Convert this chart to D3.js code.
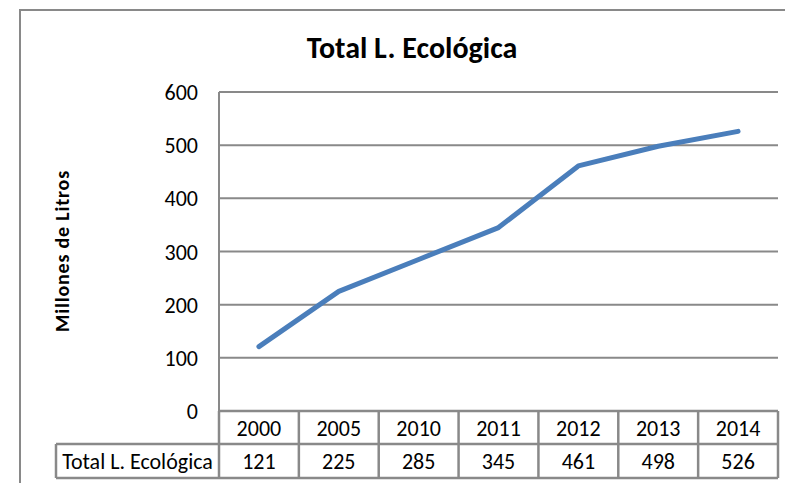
<!DOCTYPE html>
<html>
<head>
<meta charset="utf-8">
<script src="https://cdn.jsdelivr.net/npm/d3@7"></script>
<style>
  body { margin: 0; background: #fff; }
  svg { display: block; font-family: Carlito, Lato, "Liberation Sans", sans-serif; }
</style>
</head>
<body>
<svg width="785" height="483"></svg>
<script>
// --- Data ---
const years = ["2000", "2005", "2010", "2011", "2012", "2013", "2014"];
const values = [121, 225, 285, 345, 461, 498, 526];
const yTicks = [0, 100, 200, 300, 400, 500, 600];
const seriesName = "Total L. Ecológica";

const svg = d3.select("svg");
const gridColor = "#898989";
const lineColor = "#4a7ebb";
const fs = 22;

// outer chart frame (cut off on the right and bottom)
svg.append("rect")
    .attr("x", 20).attr("y", 10).attr("width", 800).attr("height", 500)
    .attr("fill", "none").attr("stroke", gridColor).attr("stroke-width", 2);

const plot = { left: 219, right: 778, top: 92, bottom: 411 };

const x = d3.scaleBand().domain(years).range([plot.left, plot.right]).padding(0);
const y = d3.scaleLinear().domain([0, 600]).range([plot.bottom, plot.top]);

// title
svg.append("text")
    .attr("x", 412).attr("y", 58)
    .attr("text-anchor", "middle")
    .attr("font-size", 30).attr("font-weight", "bold")
    .text(seriesName);

// y axis title
svg.append("text")
    .attr("transform", `translate(69,251) rotate(-90)`)
    .attr("text-anchor", "middle")
    .attr("font-size", 20).attr("font-weight", "bold")
    .attr("letter-spacing", 0.8)
    .text("Millones de Litros");

// gridlines
svg.append("g").selectAll("line")
    .data(yTicks.filter(d => d > 0))
    .join("line")
    .attr("x1", plot.left).attr("x2", plot.right)
    .attr("y1", d => y(d)).attr("y2", d => y(d))
    .attr("stroke", gridColor).attr("stroke-width", 2);

// y axis line
svg.append("line")
    .attr("x1", plot.left).attr("x2", plot.left)
    .attr("y1", y(600)).attr("y2", y(0))
    .attr("stroke", gridColor).attr("stroke-width", 2);

// y tick labels
svg.append("g").selectAll("text")
    .data(yTicks)
    .join("text")
    .attr("x", 198)
    .attr("y", d => y(d) + 8)
    .attr("text-anchor", "end")
    .attr("font-size", fs)
    .text(d => d);

// data table
const rowTop = y(0), rowMid = 444, rowBot = 478, labelLeft = 56;
const table = svg.append("g");
table.append("g").selectAll("text")
    .data(years)
    .join("text")
    .attr("x", d => x(d) + x.bandwidth() / 2)
    .attr("y", (rowTop + rowMid) / 2 + 8)
    .attr("text-anchor", "middle")
    .attr("font-size", fs)
    .text(d => d);
table.append("g").selectAll("text")
    .data(values)
    .join("text")
    .attr("x", (d, i) => x(years[i]) + x.bandwidth() / 2)
    .attr("y", (rowMid + rowBot) / 2 + 8)
    .attr("text-anchor", "middle")
    .attr("font-size", fs)
    .text(d => d);
table.append("text")
    .attr("x", (labelLeft + plot.left) / 2)
    .attr("y", (rowMid + rowBot) / 2 + 8)
    .attr("text-anchor", "middle")
    .attr("font-size", fs)
    .text(seriesName);

const tlines = [
  [plot.left, rowTop, plot.right, rowTop],
  [labelLeft, rowMid, plot.right, rowMid],
  [labelLeft, rowBot, plot.right, rowBot],
  [labelLeft, rowMid, labelLeft, rowBot],
  [plot.left, rowTop, plot.left, rowBot]
];
years.forEach(yr => tlines.push([x(yr) + x.bandwidth(), rowTop, x(yr) + x.bandwidth(), rowBot]));
table.append("g").selectAll("line")
    .data(tlines)
    .join("line")
    .attr("x1", d => d[0]).attr("y1", d => d[1])
    .attr("x2", d => d[2]).attr("y2", d => d[3])
    .attr("stroke", gridColor).attr("stroke-width", 2.5);

// series line
const line = d3.line()
    .x((d, i) => x(years[i]) + x.bandwidth() / 2)
    .y(d => y(d));
svg.append("path")
    .datum(values)
    .attr("d", line)
    .attr("fill", "none")
    .attr("stroke", lineColor)
    .attr("stroke-width", 5)
    .attr("stroke-linecap", "round")
    .attr("stroke-linejoin", "round");
</script>
</body>
</html>
